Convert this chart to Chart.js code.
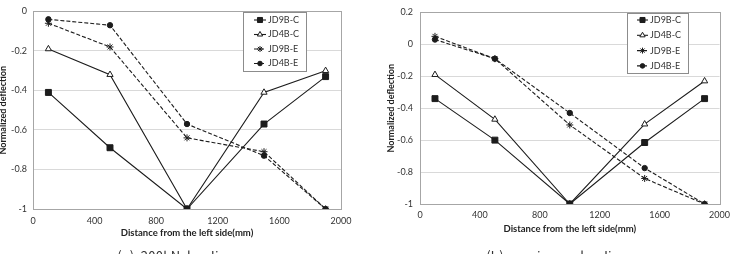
<!DOCTYPE html>
<html><head><meta charset="utf-8">
<script src="https://cdn.jsdelivr.net/npm/chart.js@4/dist/chart.umd.min.js"></script>
<style>
html,body{margin:0;padding:0;background:#fff;overflow:hidden;}
#wrap{position:relative;width:736px;height:254px;overflow:hidden;}
.cv{position:absolute;top:0;}
.cap{position:absolute;top:246px;font-family:"Noto Sans CJK KR","Noto Sans",sans-serif;font-size:13px;color:#333;white-space:pre;transform:translateX(-50%);letter-spacing:0.3px;}
</style></head>
<body><div id="wrap">
<div class="cv" style="left:0;width:368px;height:254px"><canvas id="c1" width="368" height="254"></canvas></div>
<div class="cv" style="left:368px;width:368px;height:254px"><canvas id="c2" width="368" height="254"></canvas></div>
<div class="cap" style="left:176px">(a)  200kN  loading</div>
<div class="cap" style="left:557px">(b)  maximum  loading</div>
</div>
<script>
// ---- data ----
const distances = [100, 500, 1000, 1500, 1900];
const seriesNames = ['JD9B-C', 'JD4B-C', 'JD9B-E', 'JD4B-E'];
// (a) 200kN loading
const a_JD9B_C = [-0.41, -0.69, -1.00, -0.57, -0.33];
const a_JD4B_C = [-0.19, -0.32, -1.00, -0.41, -0.30];
const a_JD9B_E = [-0.06, -0.18, -0.64, -0.71, -1.00];
const a_JD4B_E = [-0.04, -0.07, -0.57, -0.73, -1.00];
// (b) maximum loading
const b_JD9B_C = [-0.34, -0.60, -1.00, -0.615, -0.34];
const b_JD4B_C = [-0.19, -0.47, -1.00, -0.50, -0.23];
const b_JD9B_E = [0.05, -0.09, -0.505, -0.84, -1.00];
const b_JD4B_E = [0.03, -0.09, -0.43, -0.775, -1.00];
// tick labels
const xTicks = [0, 400, 800, 1200, 1600, 2000];
const yTicksA = [0, -0.2, -0.4, -0.6, -0.8, -1];
const yTicksB = [0.2, 0, -0.2, -0.4, -0.6, -0.8, -1];
const xTitle = 'Distance from the left side(mm)';
const yTitle = 'Normalized deflection';

const INK = '#1c1c1c';
const FONT = 'Lato, "Open Sans", sans-serif';
const styles = [
  {pointStyle:'rect', radius:4.2, bg:INK, dash:[]},
  {pointStyle:'triangle', radius:3.6, bg:'#fff', dash:[]},
  {pointStyle:'star', radius:3.5, bg:INK, dash:[4,2]},
  {pointStyle:'circle', radius:2.7, bg:INK, dash:[4,2]}
];

function mkDatasets(arrs){
  return arrs.map((vals,i)=>({
    label: seriesNames[i],
    data: distances.map((x,j)=>({x:x, y:vals[j]})),
    borderColor: INK, backgroundColor: styles[i].bg,
    borderWidth: 1.1, borderDash: styles[i].dash,
    pointStyle: styles[i].pointStyle, pointRadius: styles[i].radius,
    pointBorderColor: INK, pointBackgroundColor: styles[i].bg, pointBorderWidth: 1,
    tension: 0
  }));
}

const frame = {
  id:'frame',
  beforeDatasetsDraw(chart){
    const {ctx, chartArea:a} = chart;
    ctx.save(); ctx.strokeStyle='#a6a6a6'; ctx.lineWidth=1;
    ctx.strokeRect(Math.round(a.left)+0.5, Math.round(a.top)+0.5, Math.round(a.right-a.left), Math.round(a.bottom-a.top));
    ctx.restore();
  }
};
const legendBox = {
  id:'legendBox',
  afterDraw(chart, args, o){
    const ctx = chart.ctx;
    ctx.save();
    ctx.fillStyle='#fff'; ctx.fillRect(o.x,o.y,o.w,o.h);
    ctx.strokeStyle='#8c8c8c'; ctx.lineWidth=1;
    ctx.strokeRect(o.x+0.5,o.y+0.5,o.w,o.h);
    ctx.font='9px ' + FONT;
    ctx.textBaseline='middle'; ctx.textAlign='left';
    chart.data.datasets.forEach((ds,i)=>{
      const y = o.y + o.first + i*o.step;
      ctx.strokeStyle=INK; ctx.lineWidth=1.1; ctx.setLineDash(ds.borderDash);
      ctx.beginPath(); ctx.moveTo(o.lx, y); ctx.lineTo(o.lx+o.lw, y); ctx.stroke();
      ctx.setLineDash([]);
      ctx.fillStyle=ds.pointBackgroundColor; ctx.strokeStyle=INK; ctx.lineWidth=1;
      Chart.helpers.drawPoint(ctx, {pointStyle:ds.pointStyle, radius:ds.pointRadius*0.85, rotation:0, borderWidth:1}, o.lx+o.lw/2, y);
      ctx.fillStyle='#333';
      ctx.fillText(ds.label, o.lx+o.lw+2, y);
    });
    ctx.restore();
  }
};

function mkChart(id, arrs, yTicks, cfg){
  const ymin = Math.min(...yTicks), ymax = Math.max(...yTicks);
  return new Chart(document.getElementById(id), {
    type:'line',
    data:{datasets: mkDatasets(arrs)},
    plugins:[frame, legendBox],
    options:{
      responsive:false, animation:false, devicePixelRatio:1,
      layout:{padding:{top:cfg.top, right:cfg.right, bottom:0, left:0}},
      plugins:{legend:{display:false}, tooltip:{enabled:false}, legendBox:cfg.legend},
      scales:{
        x:{type:'linear', min:0, max:2000,
          afterBuildTicks(s){ s.ticks = xTicks.map(v=>({value:v})); },
          afterFit(s){ s.height = cfg.xh; },
          grid:{display:false, drawTicks:false}, border:{display:false},
          ticks:{padding:cfg.xtp, color:'#333', font:{family:FONT, size:9}, maxRotation:0, callback:v=>String(v)},
          title:{display:true, text:xTitle, color:'#222', font:{family:FONT, size:9.5, weight:'bold'}, padding:{top:0,bottom:cfg.xtitlePad}}
        },
        y:{type:'linear', min:ymin, max:ymax,
          afterBuildTicks(s){ s.ticks = yTicks.map(v=>({value:v})); },
          afterFit(s){ s.width = cfg.yw; },
          grid:{color:'#d9d9d9', drawTicks:false, lineWidth:1}, border:{display:false},
          ticks:{padding:cfg.ytp, color:'#333', font:{family:FONT, size:9}, callback:v=>String(Math.round(v*10)/10)},
          title:{display:true, text:yTitle, color:'#222', font:{family:FONT, size:9, weight:'bold'}, padding:{top:cfg.ytitlePad,bottom:0}}
        }
      }
    }
  });
}

mkChart('c1', [a_JD9B_C, a_JD4B_C, a_JD9B_E, a_JD4B_E], yTicksA,
  {top:7, right:27, xh:45, yw:33, xtp:7, xtitlePad:15, ytp:6, ytitlePad:-2,
   legend:{x:243, y:12, w:63, h:59, first:8, step:14.5, lx:254, lw:12}});
mkChart('c2', [b_JD9B_C, b_JD4B_C, b_JD9B_E, b_JD4B_E], yTicksB,
  {top:11, right:14, xh:50, yw:52, xtp:6, xtitlePad:19, ytp:7, ytitlePad:17.5,
   legend:{x:259, y:13, w:61, h:60, first:7, step:15.3, lx:269, lw:11}});
</script>
</body></html>
